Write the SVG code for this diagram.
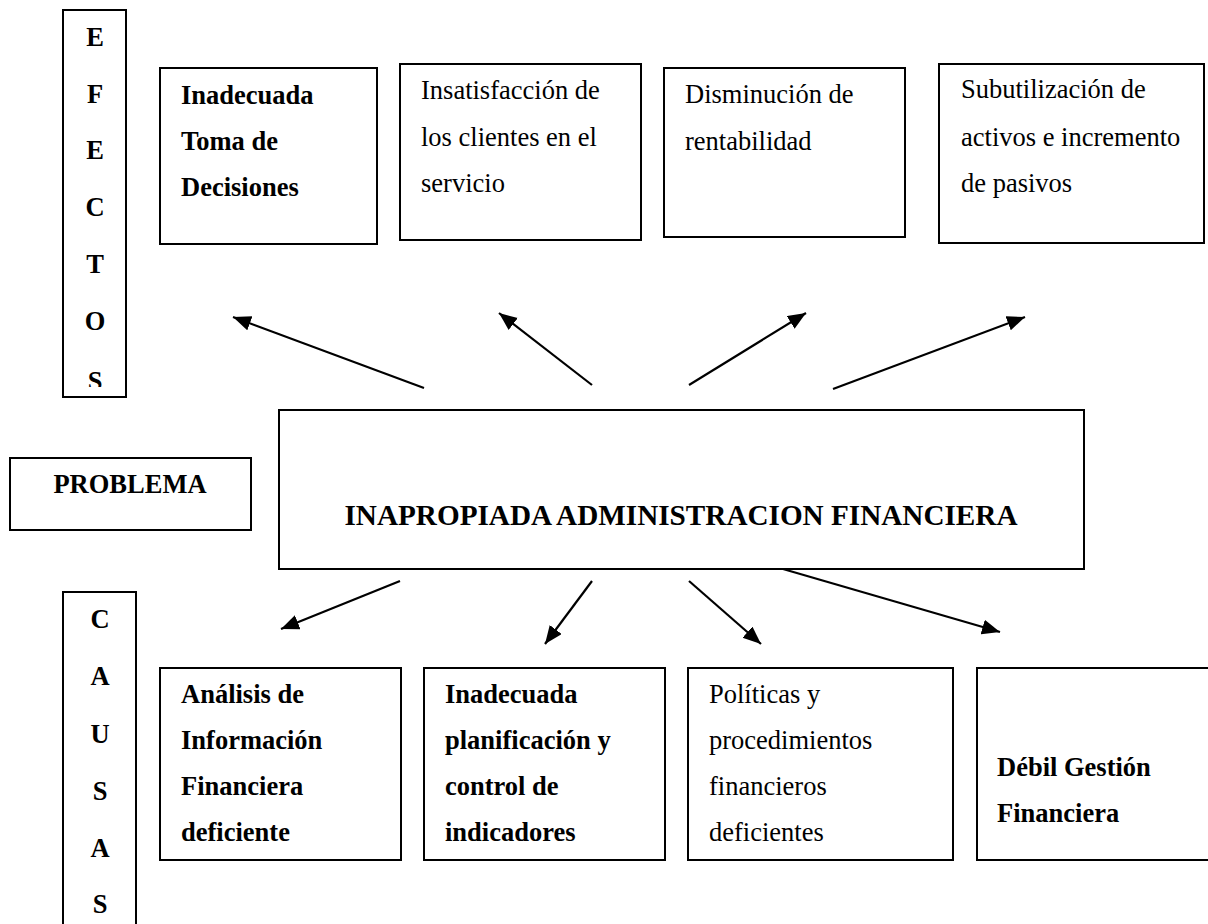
<svg xmlns="http://www.w3.org/2000/svg" width="1208" height="924" viewBox="0 0 1208 924">
<style>
  .box { fill: #ffffff; stroke: #000000; stroke-width: 2; }
  .t { font-family: "Liberation Serif", "Times New Roman", serif; font-size: 26.5px; fill: #000000; }
  .b { font-weight: bold; }
  .c { text-anchor: middle; }
  .title { font-size: 29.2px; }
  .conn line { stroke: #000000; stroke-width: 2.2; marker-end: url(#arrow); }
</style>
<defs>
  <marker id="arrow" markerUnits="userSpaceOnUse" markerWidth="20" markerHeight="16" refX="18" refY="7.5" orient="auto">
    <path d="M0,0 L18,7.5 L0,15 z" fill="#000000"/>
  </marker>
  <clipPath id="efClip"><rect x="60" y="0" width="70" height="387"/></clipPath>
</defs>
<rect width="1208" height="924" fill="#ffffff"/>

<g id="efectos">
  <rect class="box" x="63" y="10" width="63" height="387"/>
  <g clip-path="url(#efClip)">
    <text class="t b c" x="95" y="46">E</text>
    <text class="t b c" x="95" y="103">F</text>
    <text class="t b c" x="95" y="159">E</text>
    <text class="t b c" x="95" y="216">C</text>
    <text class="t b c" x="95" y="273">T</text>
    <text class="t b c" x="95" y="330">O</text>
    <text class="t b c" x="95" y="390">S</text>
  </g>
</g>

<g id="efecto1">
  <rect class="box" x="160" y="68" width="217" height="176"/>
  <text class="t b" x="181" y="104">Inadecuada</text>
  <text class="t b" x="181" y="150">Toma de</text>
  <text class="t b" x="181" y="196">Decisiones</text>
</g>
<g id="efecto2">
  <rect class="box" x="400" y="64" width="241" height="176"/>
  <text class="t" x="421" y="99">Insatisfacción de</text>
  <text class="t" x="421" y="146">los clientes en el</text>
  <text class="t" x="421" y="192">servicio</text>
</g>
<g id="efecto3">
  <rect class="box" x="664" y="68" width="241" height="169"/>
  <text class="t" x="685" y="103">Disminución de</text>
  <text class="t" x="685" y="150">rentabilidad</text>
</g>
<g id="efecto4">
  <rect class="box" x="939" y="64" width="265" height="179"/>
  <text class="t" x="961" y="98">Subutilización de</text>
  <text class="t" x="961" y="146">activos e incremento</text>
  <text class="t" x="961" y="192">de pasivos</text>
</g>

<g id="problema">
  <rect class="box" x="10" y="458" width="241" height="72"/>
  <text class="t b c" x="130" y="493">PROBLEMA</text>
</g>

<g id="main">
  <rect class="box" x="279" y="410" width="805" height="159"/>
  <text class="t b c title" x="681" y="525">INAPROPIADA ADMINISTRACION FINANCIERA</text>
</g>

<g id="causas">
  <rect class="box" x="63" y="592" width="73" height="340"/>
  <text class="t b c" x="100" y="628">C</text>
  <text class="t b c" x="100" y="685">A</text>
  <text class="t b c" x="100" y="743">U</text>
  <text class="t b c" x="100" y="800">S</text>
  <text class="t b c" x="100" y="857">A</text>
  <text class="t b c" x="100" y="913">S</text>
</g>

<g id="causa1">
  <rect class="box" x="160" y="668" width="241" height="192"/>
  <text class="t b" x="181" y="703">Análisis de</text>
  <text class="t b" x="181" y="749">Información</text>
  <text class="t b" x="181" y="795">Financiera</text>
  <text class="t b" x="181" y="841">deficiente</text>
</g>
<g id="causa2">
  <rect class="box" x="424" y="668" width="241" height="192"/>
  <text class="t b" x="445" y="703">Inadecuada</text>
  <text class="t b" x="445" y="749">planificación y</text>
  <text class="t b" x="445" y="795">control de</text>
  <text class="t b" x="445" y="841">indicadores</text>
</g>
<g id="causa3">
  <rect class="box" x="688" y="668" width="265" height="192"/>
  <text class="t" x="709" y="703">Políticas y</text>
  <text class="t" x="709" y="749">procedimientos</text>
  <text class="t" x="709" y="795">financieros</text>
  <text class="t" x="709" y="841">deficientes</text>
</g>
<g id="causa4">
  <rect class="box" x="977" y="668" width="240" height="192"/>
  <text class="t b" x="997" y="776">Débil Gestión</text>
  <text class="t b" x="997" y="822">Financiera</text>
</g>

<g id="connectors" class="conn">
  <line x1="424" y1="388" x2="233" y2="317"/>
  <line x1="592" y1="385" x2="499" y2="313"/>
  <line x1="689" y1="385" x2="806" y2="313"/>
  <line x1="833" y1="389" x2="1025" y2="317"/>
  <line x1="400" y1="581" x2="281" y2="629"/>
  <line x1="592" y1="581" x2="545" y2="644"/>
  <line x1="689" y1="581" x2="761" y2="644"/>
  <line x1="783" y1="569" x2="1000" y2="632"/>
</g>
</svg>
